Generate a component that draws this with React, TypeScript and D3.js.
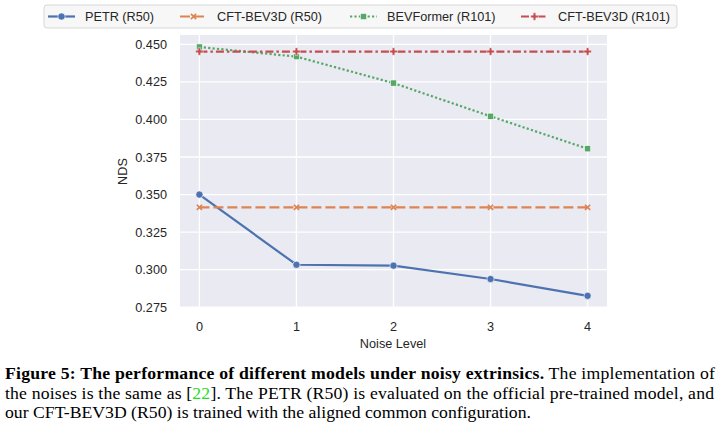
import { useEffect, useRef } from 'react';
import * as d3 from 'd3';

const W = 720;
const H = 426;
const PLOT = { left: 180, right: 607, top: 35, bottom: 308 };
const SANS = '"Liberation Sans", Arial, sans-serif';
const SERIF = '"Liberation Serif", "Times New Roman", serif';

// data
const noiseLevels = [0, 1, 2, 3, 4];
const petrR50 = [0.35, 0.3033, 0.3027, 0.2938, 0.2826];
const cftR50 = [0.3415, 0.3415, 0.3415, 0.3415, 0.3415];
const bevformerR101 = [0.4482, 0.4418, 0.4242, 0.4021, 0.3805];
const cftR101 = [0.4452, 0.4452, 0.4452, 0.4452, 0.4452];
const yTicks = [0.275, 0.3, 0.325, 0.35, 0.375, 0.4, 0.425, 0.45];
const seriesNames = ['PETR (R50)', 'CFT-BEV3D (R50)', 'BEVFormer (R101)', 'CFT-BEV3D (R101)'];
const seriesValues = [petrR50, cftR50, bevformerR101, cftR101];

const COLORS = ['#4C72B0', '#DD8452', '#55A868', '#C44E52'];
const DASHES = ['', '10,4', '2.2,2.2', '8,3,2.5,3'];
const MARKERS = ['circle', 'x', 'square', 'plus'];
// legend label x positions (layout)
const LEGEND_TEXT_X = [85, 217, 387, 558];

type Pt = { x: number; y: number };

function drawMarker(g: any, kind: string, x: number, y: number, color: string) {
  if (kind === 'circle') {
    g.append('circle').attr('cx', x).attr('cy', y).attr('r', 3.6)
      .attr('fill', color).attr('stroke', '#fff').attr('stroke-width', 0.6);
  } else if (kind === 'square') {
    g.append('rect').attr('x', x - 3.1).attr('y', y - 3.1).attr('width', 6.2).attr('height', 6.2)
      .attr('fill', color).attr('stroke', '#fff').attr('stroke-width', 0.6);
  } else if (kind === 'plus') {
    const a = 1.3, b = 3.8;
    const p = `M${x - a},${y - b}H${x + a}V${y - a}H${x + b}V${y + a}H${x + a}V${y + b}H${x - a}V${y + a}H${x - b}V${y - a}H${x - a}Z`;
    g.append('path').attr('d', p).attr('fill', color).attr('stroke', '#fff').attr('stroke-width', 0.5);
  } else {
    const s = 2.6;
    g.append('path').attr('d', `M${x - s},${y - s}L${x + s},${y + s}M${x - s},${y + s}L${x + s},${y - s}`)
      .attr('stroke', color).attr('stroke-width', 1.7).attr('fill', 'none');
  }
}

const App = () => {
  const ref = useRef<SVGSVGElement>(null);

  useEffect(() => {
    const svg = d3.select(ref.current);
    svg.selectAll('*').remove();

    const x = d3.scaleLinear().domain([-0.2, 4.2]).range([PLOT.left, PLOT.right]);
    const y = d3.scaleLinear().domain([0.2745, 0.4562]).range([PLOT.bottom, PLOT.top]);

    svg.append('rect').attr('width', W).attr('height', H).attr('fill', '#fff');

    // axes background + grid
    svg.append('rect')
      .attr('x', PLOT.left).attr('y', PLOT.top)
      .attr('width', PLOT.right - PLOT.left).attr('height', PLOT.bottom - PLOT.top)
      .attr('fill', '#EAEAF2');
    const grid = svg.append('g').attr('stroke', '#fff').attr('stroke-width', 1.3);
    noiseLevels.forEach((v) => {
      grid.append('line').attr('x1', x(v)).attr('x2', x(v)).attr('y1', PLOT.top).attr('y2', PLOT.bottom);
    });
    yTicks.forEach((v) => {
      grid.append('line').attr('x1', PLOT.left).attr('x2', PLOT.right).attr('y1', y(v)).attr('y2', y(v));
    });

    // tick labels
    const tl = svg.append('g').attr('font-family', SANS).attr('font-size', 12.7).attr('fill', '#262626');
    yTicks.forEach((v) => {
      tl.append('text').attr('x', 167).attr('y', y(v)).attr('dy', '0.36em')
        .attr('text-anchor', 'end').text(d3.format('.3f')(v));
    });
    noiseLevels.forEach((v) => {
      tl.append('text').attr('x', x(v)).attr('y', 331).attr('text-anchor', 'middle').text(String(v));
    });
    tl.append('text').attr('x', 393).attr('y', 348).attr('text-anchor', 'middle').text('Noise Level');
    tl.append('text').attr('transform', `translate(127,${(PLOT.top + PLOT.bottom) / 2}) rotate(-90)`)
      .attr('text-anchor', 'middle').text('NDS');

    // series
    const line = d3.line<Pt>().x((d) => x(d.x)).y((d) => y(d.y));
    seriesValues.forEach((vals, i) => {
      const pts = vals.map((v, j) => ({ x: noiseLevels[j], y: v }));
      const g = svg.append('g');
      g.append('path').attr('d', line(pts)).attr('fill', 'none')
        .attr('stroke', COLORS[i]).attr('stroke-width', 2.2)
        .attr('stroke-dasharray', DASHES[i] || null);
      pts.forEach((p) => drawMarker(g, MARKERS[i], x(p.x), y(p.y), COLORS[i]));
    });

    // legend
    const lg = svg.append('g');
    lg.append('rect').attr('x', 44).attr('y', 5).attr('width', 633).attr('height', 23).attr('rx', 3)
      .attr('fill', '#f7f7f7').attr('stroke', '#d2d2d2').attr('stroke-width', 0.9);
    seriesNames.forEach((name, i) => {
      const cy = 16.5;
      const tx = LEGEND_TEXT_X[i];
      const hx = tx - 37;
      lg.append('line').attr('x1', hx).attr('x2', hx + 27).attr('y1', cy).attr('y2', cy)
        .attr('stroke', COLORS[i]).attr('stroke-width', 2.2)
        .attr('stroke-dasharray', DASHES[i] || null);
      drawMarker(lg, MARKERS[i], hx + 13.5, cy, COLORS[i]);
      lg.append('text').attr('x', tx).attr('y', cy).attr('dy', '0.36em')
        .attr('font-family', SANS).attr('font-size', 12.7).attr('fill', '#262626').text(name);
    });

    // caption
    const cap = svg.append('g').attr('font-family', SERIF).attr('font-size', 17.7).attr('fill', '#000');
    const l1 = cap.append('text').attr('x', 5).attr('y', 379)
      .attr('textLength', 710).attr('lengthAdjust', 'spacing');
    l1.append('tspan').attr('font-weight', 'bold')
      .text('Figure 5: The performance of different models under noisy extrinsics.');
    l1.append('tspan').text(' The implementation of');
    const l2 = cap.append('text').attr('x', 5).attr('y', 398.5)
      .attr('textLength', 709).attr('lengthAdjust', 'spacing');
    l2.append('tspan').text('the noises is the same as [');
    l2.append('tspan').attr('fill', '#22dd22').text('22');
    l2.append('tspan').text(']. The PETR (R50) is evaluated on the official pre-trained model, and');
    cap.append('text').attr('x', 5).attr('y', 418)
      .text('our CFT-BEV3D (R50) is trained with the aligned common configuration.');
  }, []);

  return (
    <div style={{ position: 'fixed', left: 0, top: 0 }}>
      <svg ref={ref} width={W} height={H} viewBox={`0 0 ${W} ${H}`} />
    </div>
  );
};

export default App;
